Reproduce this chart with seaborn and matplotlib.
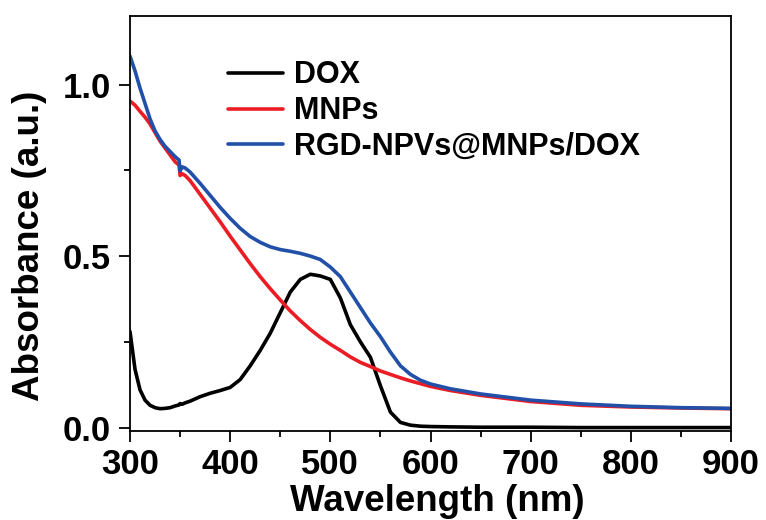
import numpy as np
import pandas as pd
import matplotlib
matplotlib.use("Agg")
import matplotlib.pyplot as plt
import seaborn as sns
from matplotlib.ticker import MultipleLocator, FormatStrFormatter

wavelength = [300, 305, 310, 315, 320, 325, 330, 335, 340, 345, 349, 350, 352, 355, 360,
              370, 380, 390, 400, 410, 420, 430, 440, 450, 460, 470, 480, 490, 500, 510,
              520, 530, 540, 550, 560, 570, 580, 590, 600, 620, 650, 700, 750, 800, 850, 900]

dox = [0.28, 0.17, 0.11, 0.08, 0.065, 0.058, 0.055, 0.056, 0.058, 0.063, 0.066, 0.07, 0.068, 0.072, 0.077,
       0.09, 0.10, 0.108, 0.117, 0.14, 0.18, 0.225, 0.275, 0.335, 0.395, 0.432, 0.447, 0.442, 0.432, 0.378,
       0.30, 0.25, 0.205, 0.122, 0.045, 0.015, 0.007, 0.004, 0.003, 0.002, 0.001, 0.001, 0.0, 0.0, 0.0, 0.0]

mnps = [0.952, 0.94, 0.922, 0.905, 0.885, 0.86, 0.835, 0.815, 0.795, 0.775, 0.765, 0.735, 0.74, 0.735, 0.72,
        0.68, 0.64, 0.60, 0.558, 0.518, 0.478, 0.44, 0.405, 0.372, 0.34, 0.312, 0.286, 0.263, 0.243, 0.225,
        0.206, 0.19, 0.178, 0.165, 0.155, 0.145, 0.136, 0.128, 0.12, 0.108, 0.094, 0.076, 0.065, 0.06, 0.057, 0.055]

rgd = [1.083, 1.04, 0.99, 0.945, 0.90, 0.865, 0.84, 0.82, 0.805, 0.79, 0.78, 0.748, 0.76, 0.757, 0.745,
       0.712, 0.677, 0.642, 0.61, 0.581, 0.557, 0.54, 0.527, 0.519, 0.514, 0.508, 0.50, 0.49, 0.468, 0.44,
       0.395, 0.35, 0.305, 0.265, 0.22, 0.18, 0.155, 0.138, 0.127, 0.113, 0.098, 0.08, 0.069, 0.062, 0.058, 0.056]

labels = ["DOX", "MNPs", "RGD-NPVs@MNPs/DOX"]
colors = ["#000000", "#ec1c24", "#2250a8"]

df = pd.concat([
    pd.DataFrame({"Wavelength": wavelength, "Absorbance": vals, "Sample": lab})
    for vals, lab in zip([dox, mnps, rgd], labels)
])

sns.set_style("ticks")
plt.rcParams["font.family"] = ["Liberation Sans", "DejaVu Sans"]
plt.rcParams["font.weight"] = "bold"
plt.rcParams["text.color"] = "black"
plt.rcParams["axes.labelcolor"] = "black"
plt.rcParams["xtick.color"] = "black"
plt.rcParams["ytick.color"] = "black"
plt.rcParams["axes.edgecolor"] = "black"

fig = plt.figure(figsize=(7.66, 5.20), dpi=100)
ax = fig.add_axes([130/766, 89/520, 601/766, 415/520])

sns.lineplot(data=df, x="Wavelength", y="Absorbance", hue="Sample",
             palette=dict(zip(labels, colors)), linewidth=2.6, ax=ax, sort=True)

ax.set_xlim(300, 900)
ax.set_ylim(-0.01, 1.2)
ax.xaxis.set_major_locator(MultipleLocator(100))
ax.xaxis.set_minor_locator(MultipleLocator(50))
ax.yaxis.set_major_locator(MultipleLocator(0.5))
ax.yaxis.set_minor_locator(MultipleLocator(0.25))
ax.yaxis.set_major_formatter(FormatStrFormatter("%.1f"))

for s in ax.spines.values():
    s.set_linewidth(1.3)
    s.set_color("black")
ax.tick_params(which="major", direction="out", length=8, width=1.3, labelsize=25,
               top=False, right=False, colors="black", labelcolor="black")
ax.tick_params(axis="x", which="major", pad=4)
ax.tick_params(axis="y", which="major", pad=6)
ax.tick_params(which="minor", direction="out", length=4.5, width=1.3, top=False, right=False,
               colors="black")
for lab in ax.get_xticklabels() + ax.get_yticklabels():
    lab.set_fontweight("bold")

ax.set_xlabel("Wavelength (nm)", fontsize=26.5, fontweight="bold", color="black")
ax.set_ylabel("Absorbance (a.u.)", fontsize=26.5, fontweight="bold", color="black")
ax.xaxis.set_label_coords(0.512, -0.127)
ax.yaxis.set_label_coords(-0.138, 0.446)

leg = ax.legend(loc="upper left", bbox_to_anchor=(0.163, 0.893), frameon=False,
                borderpad=0, borderaxespad=0,
                handlelength=1.8, handletextpad=0.35, labelspacing=0.19,
                prop={"weight": "bold", "size": 22})
for line in leg.get_lines():
    line.set_linewidth(2.6)
for t in leg.get_texts():
    t.set_color("black")

fig.savefig("out.png", dpi=100)
